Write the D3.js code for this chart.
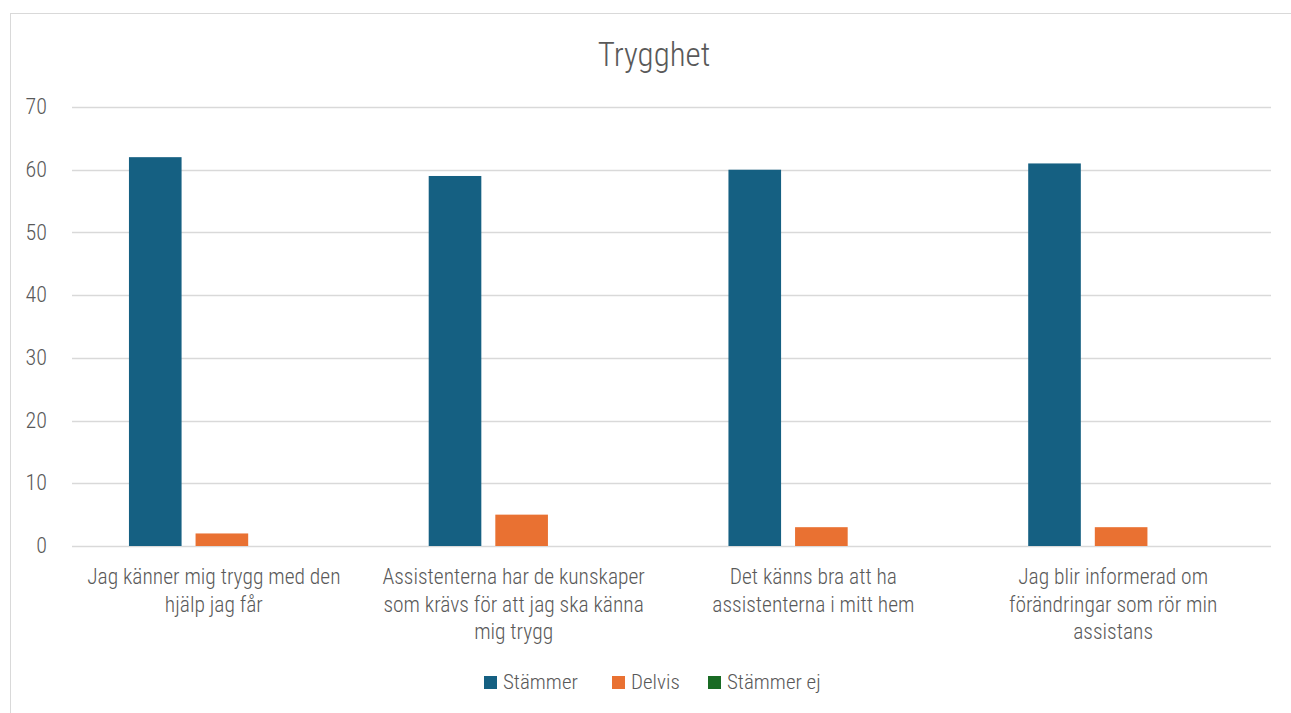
<!DOCTYPE html>
<html>
<head>
<meta charset="utf-8">
<script src="https://cdn.jsdelivr.net/npm/d3@7"></script>
<style>
  body { margin: 0; background: #fff; }
  text { font-family: "Liberation Sans Narrow", "Roboto Condensed", "Roboto", sans-serif; font-weight: 300; fill: #595959; }
</style>
</head>
<body>
<svg width="1291" height="713"></svg>
<script>
var categories = [
  ["Jag känner mig trygg med den", "hjälp jag får"],
  ["Assistenterna har de kunskaper", "som krävs för att jag ska känna", "mig trygg"],
  ["Det känns bra att ha", "assistenterna i mitt hem"],
  ["Jag blir informerad om", "förändringar som rör min", "assistans"]
];
var seriesNames = ["Stämmer", "Delvis", "Stämmer ej"];
var stammer = [62, 59, 60, 61];
var delvis = [2, 5, 3, 3];
var stammerEj = [0, 0, 0, 0];
var yTicks = [0, 10, 20, 30, 40, 50, 60, 70];
var colors = ["#156082", "#e97132", "#196b24"];

var svg = d3.select('svg');
var margin = {top: 107, bottom: 167, left: 72, right: 20};
var width = 1291, height = 713;

// chart frame
svg.append('rect')
  .attr('x', 10.5).attr('y', 13.5)
  .attr('width', 1300).attr('height', 720)
  .attr('fill', 'none').attr('stroke', '#d9d9d9');

svg.append('text')
  .attr('x', 654).attr('y', 66)
  .attr('text-anchor', 'middle')
  .style('font-size', '33px')
  .text('Trygghet');

var values = [stammer, delvis, stammerEj];
var rows = categories.map((c, i) => ({i: i, vals: values.map(v => v[i])}));

var xScale = d3.scaleBand()
  .domain(d3.range(categories.length))
  .range([margin.left, width - margin.right]);
var inner = d3.scaleBand()
  .domain(d3.range(seriesNames.length))
  .range([0, xScale.bandwidth() * 0.62])
  .paddingInner(0.21);
var yScale = d3.scaleLinear()
  .domain([0, 70])
  .range([height - margin.bottom, margin.top]);

// gridlines
svg.append('g').selectAll('line')
  .data(yTicks)
  .enter().append('line')
  .attr('x1', margin.left).attr('x2', width - margin.right)
  .attr('y1', d => Math.round(yScale(d)) + 0.5)
  .attr('y2', d => Math.round(yScale(d)) + 0.5)
  .attr('stroke', '#d9d9d9').attr('stroke-width', 1.5);

// y axis labels
var yAxis = d3.axisLeft(yScale).tickValues(yTicks).tickSize(0).tickPadding(0);
var gy = svg.append('g')
  .attr('transform', 'translate(' + [47, 0] + ')')
  .call(yAxis);
gy.select('.domain').remove();
gy.selectAll('text')
  .style('font-family', '"Liberation Sans Narrow", "Roboto Condensed", "Roboto", sans-serif')
  .style('font-weight', 300)
  .style('font-size', '22px').attr('dy', '0.3em').attr('fill', '#595959');

// bars
var offset = (xScale.bandwidth() - inner.range()[1]) / 2;
var groups = svg.append('g').selectAll('g')
  .data(rows)
  .enter().append('g')
  .attr('transform', d => 'translate(' + [xScale(d.i) + offset, 0] + ')');
groups.selectAll('rect')
  .data(d => d.vals)
  .enter().append('rect')
  .attr('x', (d, j) => inner(j))
  .attr('width', inner.bandwidth())
  .attr('y', d => yScale(d))
  .attr('height', d => yScale(0) - yScale(d))
  .attr('fill', (d, j) => colors[j]);

// category labels
var labels = svg.append('g').selectAll('text')
  .data(categories)
  .enter().append('text')
  .attr('text-anchor', 'middle')
  .attr('x', (d, i) => xScale(i) + xScale.bandwidth() / 2 - 8)
  .attr('y', 584)
  .style('font-size', '21.5px');
labels.selectAll('tspan')
  .data(d => d)
  .enter().append('tspan')
  .attr('x', function() { return this.parentNode.getAttribute('x'); })
  .attr('dy', (d, k) => k === 0 ? 0 : 27.5)
  .text(d => d);

// legend
var legendX = [484, 612, 708];
var legend = svg.append('g').selectAll('g')
  .data(seriesNames)
  .enter().append('g')
  .attr('transform', (d, i) => 'translate(' + [legendX[i], 676] + ')');
legend.append('rect')
  .attr('width', 13).attr('height', 13)
  .attr('fill', (d, i) => colors[i]);
legend.append('text')
  .attr('x', 19).attr('y', 13)
  .style('font-size', '21px')
  .text(d => d);
</script>
</body>
</html>
